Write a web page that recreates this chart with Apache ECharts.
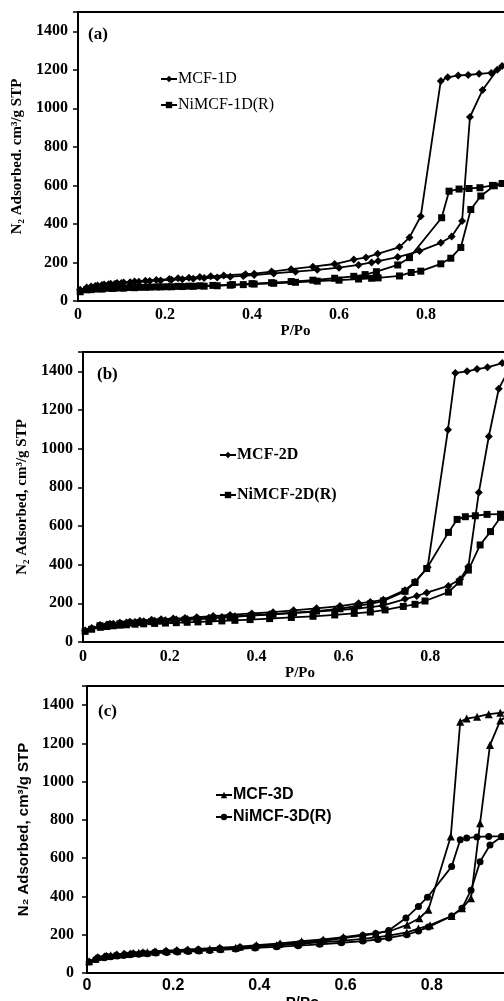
<!DOCTYPE html>
<html>
<head>
<meta charset="utf-8">
<script src="https://cdn.jsdelivr.net/npm/echarts@6/dist/echarts.min.js"></script>
<style>html,body{margin:0;padding:0;background:#fff;}#c{width:504px;height:1001px;}</style>
</head>
<body>
<div id="c"></div>
<script>
// ---- Data: [P/Po, volume adsorbed] ----
const mcf1dAds = [[0.005,58],[0.02,70],[0.04,78],[0.055,83],[0.07,87],[0.085,90],[0.10,93],[0.12,97],[0.14,100],[0.165,104],[0.19,107],[0.215,110],[0.24,113],[0.265,116],[0.29,119],[0.32,122],[0.35,126],[0.38,130],[0.405,135],[0.45,143],[0.50,152],[0.55,162],[0.60,173],[0.645,187],[0.675,200],[0.69,207],[0.735,228],[0.785,259],[0.834,302],[0.859,335],[0.883,415],[0.901,955],[0.930,1095],[0.964,1200],[0.99,1235]];
const mcf1dDes = [[0.99,1235],[0.975,1220],[0.950,1184],[0.922,1179],[0.897,1173],[0.874,1171],[0.850,1161],[0.834,1142],[0.788,440],[0.762,330],[0.739,280],[0.689,245],[0.662,226],[0.634,215],[0.59,192],[0.54,178],[0.49,165],[0.445,153],[0.405,142],[0.385,139],[0.335,133],[0.305,128],[0.28,124],[0.255,121],[0.23,118],[0.21,114],[0.18,109],[0.155,105],[0.13,101],[0.105,96],[0.09,93],[0.075,89],[0.06,86],[0.045,80],[0.03,75]];
const nimcf1dAds = [[0.005,48],[0.02,58],[0.04,62],[0.055,64],[0.07,66],[0.085,67],[0.10,68],[0.12,70],[0.14,71],[0.165,72],[0.19,73],[0.215,74],[0.24,75],[0.265,76],[0.29,77],[0.32,79],[0.35,82],[0.38,85],[0.405,88],[0.45,92],[0.50,97],[0.55,103],[0.60,108],[0.645,114],[0.675,118],[0.69,120],[0.739,130],[0.766,148],[0.788,155],[0.834,193],[0.857,222],[0.880,278],[0.903,475],[0.926,545],[0.957,598],[0.99,612]];
const nimcf1dDes = [[0.99,612],[0.975,610],[0.953,600],[0.924,588],[0.899,584],[0.876,581],[0.853,570],[0.836,432],[0.762,225],[0.735,187],[0.686,152],[0.66,137],[0.634,128],[0.59,118],[0.54,108],[0.49,101],[0.445,95],[0.40,90],[0.355,85],[0.31,81],[0.28,79],[0.255,77],[0.23,76],[0.205,74],[0.18,73],[0.155,71],[0.13,69],[0.105,67],[0.08,65],[0.055,62],[0.03,59]];

const mcf2dAds = [[0.005,60],[0.02,72],[0.04,85],[0.055,90],[0.07,94],[0.085,98],[0.10,101],[0.12,104],[0.14,107],[0.165,110],[0.19,113],[0.215,116],[0.24,119],[0.265,122],[0.29,125],[0.32,129],[0.35,133],[0.385,138],[0.43,143],[0.48,150],[0.53,156],[0.58,164],[0.625,172],[0.662,180],[0.69,188],[0.742,222],[0.769,238],[0.792,255],[0.842,290],[0.869,325],[0.888,390],[0.912,773],[0.935,1063],[0.958,1310],[0.99,1445]];
const mcf2dDes = [[0.99,1445],[0.966,1443],[0.932,1421],[0.908,1412],[0.885,1400],[0.858,1392],[0.841,1098],[0.794,386],[0.765,311],[0.742,268],[0.692,218],[0.662,207],[0.635,200],[0.592,186],[0.538,174],[0.485,164],[0.438,154],[0.389,148],[0.339,140],[0.30,134],[0.262,128],[0.235,124],[0.208,121],[0.18,118],[0.158,115],[0.131,110],[0.108,105],[0.085,100],[0.062,95],[0.039,88]];
const nimcf2dAds = [[0.005,55],[0.02,66],[0.04,76],[0.055,80],[0.07,84],[0.085,87],[0.10,89],[0.12,92],[0.14,94],[0.165,96],[0.19,98],[0.215,100],[0.24,102],[0.265,104],[0.29,106],[0.32,109],[0.35,112],[0.385,116],[0.43,121],[0.48,127],[0.53,133],[0.58,140],[0.625,148],[0.662,155],[0.696,166],[0.738,184],[0.765,195],[0.788,212],[0.842,258],[0.867,310],[0.888,372],[0.915,502],[0.939,571],[0.962,645],[0.99,662]];
const nimcf2dDes = [[0.99,662],[0.962,661],[0.931,660],[0.904,653],[0.881,648],[0.862,634],[0.842,567],[0.792,380],[0.765,308],[0.742,262],[0.692,212],[0.662,197],[0.635,188],[0.592,172],[0.538,160],[0.485,151],[0.438,143],[0.389,136],[0.339,129],[0.30,123],[0.262,117],[0.235,114],[0.208,111],[0.18,108],[0.158,105],[0.131,101],[0.108,98],[0.085,94],[0.062,90],[0.039,84]];

const mcf3dAds = [[0.005,62],[0.02,75],[0.04,88],[0.055,93],[0.07,97],[0.085,100],[0.10,103],[0.12,106],[0.14,109],[0.16,112],[0.185,115],[0.21,117],[0.235,120],[0.26,122],[0.285,125],[0.31,128],[0.345,132],[0.39,138],[0.44,145],[0.49,152],[0.54,160],[0.59,168],[0.64,178],[0.675,187],[0.70,195],[0.742,212],[0.769,232],[0.796,250],[0.846,298],[0.870,338],[0.891,391],[0.912,783],[0.935,1191],[0.959,1320],[0.99,1365]];
const mcf3dDes = [[0.99,1365],[0.959,1360],[0.932,1353],[0.905,1339],[0.881,1330],[0.866,1313],[0.844,713],[0.792,330],[0.771,286],[0.743,252],[0.70,217],[0.67,208],[0.64,200],[0.595,188],[0.548,175],[0.498,166],[0.448,155],[0.393,146],[0.355,138],[0.308,133],[0.258,126],[0.233,123],[0.208,120],[0.183,117],[0.157,113],[0.13,109],[0.107,105],[0.087,101],[0.068,97],[0.045,90],[0.025,83]];
const nimcf3dAds = [[0.005,58],[0.02,70],[0.04,80],[0.055,85],[0.07,89],[0.085,92],[0.10,95],[0.12,98],[0.14,101],[0.16,104],[0.185,107],[0.21,110],[0.235,112],[0.26,115],[0.285,118],[0.31,121],[0.345,125],[0.39,131],[0.44,137],[0.49,143],[0.54,150],[0.59,158],[0.64,167],[0.675,175],[0.70,183],[0.742,200],[0.769,220],[0.792,240],[0.846,298],[0.870,338],[0.891,433],[0.912,582],[0.935,669],[0.962,712],[0.99,720]];
const nimcf3dDes = [[0.99,720],[0.962,714],[0.932,714],[0.905,711],[0.881,705],[0.866,696],[0.846,556],[0.790,396],[0.769,348],[0.740,287],[0.70,222],[0.67,206],[0.64,196],[0.595,182],[0.548,168],[0.498,158],[0.448,148],[0.393,140],[0.355,133],[0.308,128],[0.258,121],[0.233,118],[0.208,115],[0.183,112],[0.157,108],[0.13,104],[0.107,100],[0.087,97],[0.068,93],[0.045,87],[0.025,80]];

const panelLabels = ['(a)', '(b)', '(c)'];
const yTitles = ['N\u2082 Adsorbed. cm\u00B3/g STP', 'N\u2082 Adsorbed, cm\u00B3/g STP', 'N\u2082 Adsorbed, cm\u00B3/g STP'];
const xTitle = 'P/Po';
const legendNames = [['MCF-1D', 'NiMCF-1D(R)'], ['MCF-2D', 'NiMCF-2D(R)'], ['MCF-3D', 'NiMCF-3D(R)']];

// ---- Layout ----
const SERIF = 'Liberation Serif';
const SANS = 'Liberation Sans';
const grids = [
  {left: 78, top: 12, right: -9, height: 289},
  {left: 83, top: 352, right: -13, height: 290},
  {left: 87, top: 686, right: -14, height: 287}
];
const yNameGap = [50, 49, 51];
const yLabelMargin = [10, 10, 13];
const xLabelMargin = [6, 7, 5];
const xNameGap = [18, 16, 14];
const xFont = [SERIF, SERIF, SANS];
const yTitleFont = [SERIF, SERIF, SANS];

const chart = echarts.init(document.getElementById('c'), null, {renderer: 'canvas'});

const xAxes = [], yAxes = [];
for (let i = 0; i < 3; i++) {
  xAxes.push({
    type: 'value', gridIndex: i, min: 0, max: 1, interval: 0.2,
    axisLine: {show: true, onZero: false, lineStyle: {color: '#000', width: 2}},
    axisTick: {show: false},
    splitLine: {show: false},
    axisLabel: {color: '#000', fontFamily: xFont[i], fontWeight: 'bold', fontSize: 16, margin: xLabelMargin[i],
      formatter: v => (v >= 1 ? '' : String(v))},
    name: xTitle, nameLocation: 'middle', nameGap: xNameGap[i],
    nameTextStyle: {color: '#000', fontFamily: xFont[i], fontWeight: 'bold', fontSize: 15}
  });
  yAxes.push({
    type: 'value', gridIndex: i, min: 0, max: 1500, interval: 200,
    axisLine: {show: true, lineStyle: {color: '#000', width: 2}},
    axisTick: {show: true, inside: false, length: 5, lineStyle: {color: '#000', width: 1.5}},
    splitLine: {show: false},
    axisLabel: {color: '#000', fontFamily: SERIF, fontWeight: 'bold', fontSize: 16, margin: yLabelMargin[i],
      formatter: v => (v > 1400 ? '' : String(v))},
    name: yTitles[i], nameLocation: 'middle', nameRotate: 90, nameGap: yNameGap[i],
    nameTextStyle: {color: '#000', fontFamily: yTitleFont[i], fontWeight: 'bold', fontSize: 15}
  });
}

function mk(name, data, idx, symbol, size) {
  return {
    type: 'line', name: name, data: data, xAxisIndex: idx, yAxisIndex: idx,
    symbol: symbol, symbolSize: size, showAllSymbol: true,
    lineStyle: {color: '#000', width: 1.8},
    itemStyle: {color: '#000', borderWidth: 0},
    emphasis: {disabled: true}, animation: false, clip: true
  };
}

const series = [
  mk('MCF-1D', mcf1dAds, 0, 'diamond', 8),
  mk('MCF-1D', mcf1dDes, 0, 'diamond', 8),
  mk('NiMCF-1D(R)', nimcf1dAds, 0, 'rect', 7),
  mk('NiMCF-1D(R)', nimcf1dDes, 0, 'rect', 7),
  mk('MCF-2D', mcf2dAds, 1, 'diamond', 8),
  mk('MCF-2D', mcf2dDes, 1, 'diamond', 8),
  mk('NiMCF-2D(R)', nimcf2dAds, 1, 'rect', 7),
  mk('NiMCF-2D(R)', nimcf2dDes, 1, 'rect', 7),
  mk('MCF-3D', mcf3dAds, 2, 'triangle', 8),
  mk('MCF-3D', mcf3dDes, 2, 'triangle', 8),
  mk('NiMCF-3D(R)', nimcf3dAds, 2, 'circle', 7),
  mk('NiMCF-3D(R)', nimcf3dDes, 2, 'circle', 7)
];

const legendPos = [
  {left: 155, top: 66, itemGap: 10, font: SERIF, weight: 'normal'},
  {left: 214, top: 442, itemGap: 24, font: SERIF, weight: 'bold'},
  {left: 210, top: 782, itemGap: 6, font: SANS, weight: 'bold'}
];
const legends = legendPos.map((p, i) => ({
  data: legendNames[i], orient: 'vertical', left: p.left, top: p.top, itemGap: p.itemGap,
  itemWidth: 16, itemHeight: 8, selectedMode: false,
  textStyle: {color: '#000', fontFamily: p.font, fontWeight: p.weight, fontSize: 16, padding: [0, 0, 0, -4]}
}));

const panelPos = [[88, 26], [97, 366], [98, 703]];
const graphics = panelLabels.map((t, i) => ({
  type: 'text', left: panelPos[i][0], top: panelPos[i][1],
  style: {text: t, fill: '#000', font: 'bold 17px "Liberation Serif"'}
}));

chart.setOption({
  animation: false,
  backgroundColor: '#fff',
  grid: grids.map(g => Object.assign({show: true, borderColor: '#000', borderWidth: 2, backgroundColor: 'transparent',
    containLabel: false, outerBoundsMode: 'none'}, g)),
  xAxis: xAxes,
  yAxis: yAxes,
  legend: legends,
  graphic: graphics,
  series: series
});
</script>
</body>
</html>
